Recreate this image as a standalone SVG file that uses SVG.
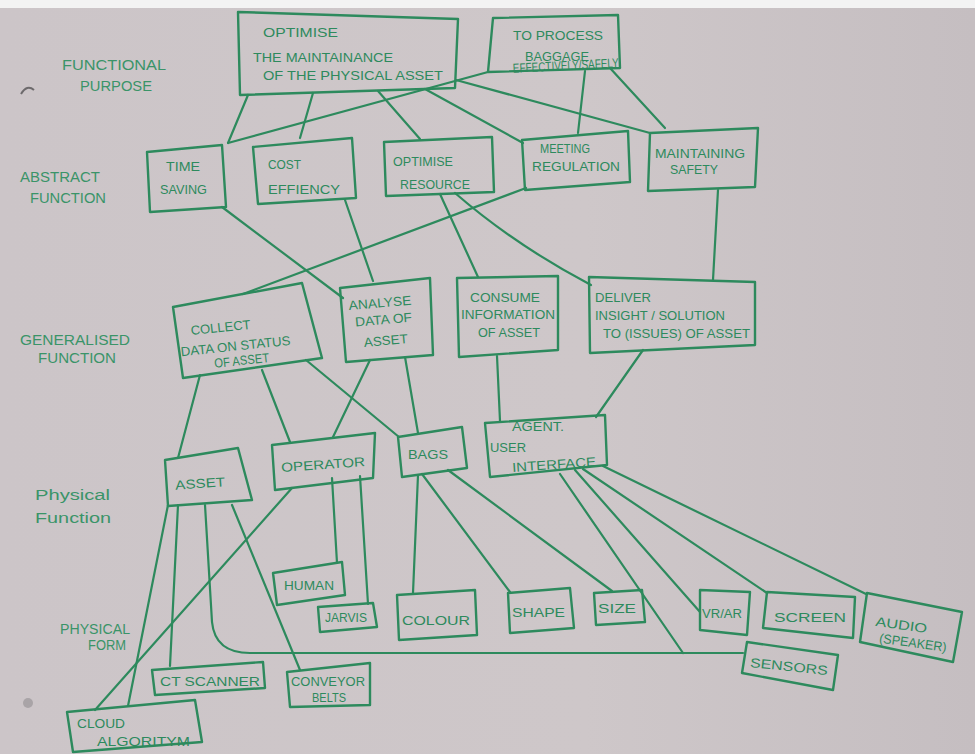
<svg xmlns="http://www.w3.org/2000/svg" width="975" height="754" viewBox="0 0 975 754">
<defs>
<linearGradient id="paper" x1="0" y1="0" x2="1" y2="0">
<stop offset="0" stop-color="#ccc5c8"/>
<stop offset="0.6" stop-color="#cec7c9"/>
<stop offset="1" stop-color="#c5bec1"/>
</linearGradient>
<style>
.box{fill:none;stroke:#2d8a5d;stroke-width:2.4;stroke-linejoin:round}
.ln{fill:none;stroke:#2d8a5d;stroke-width:2.2;stroke-linecap:round}
.t{font-family:"Liberation Sans",Arial,sans-serif;fill:#2d8a5d;font-size:13px}
.lay{font-family:"Liberation Sans",Arial,sans-serif;fill:#3a9468;font-size:14px}
</style>
</defs>
<rect x="0" y="0" width="975" height="754" fill="url(#paper)"/>
<rect x="0" y="0" width="975" height="8" fill="#f3f3f3"/>
<path d="M21,94 Q27,84 34,90" fill="none" stroke="#6d6a6c" stroke-width="2"/>
<circle cx="28" cy="703" r="5" fill="#a9a4a7"/>

<g id="layer-labels">
<text class="lay" x="62" y="70" textLength="104" lengthAdjust="spacingAndGlyphs">FUNCTIONAL</text>
<text class="lay" x="80" y="91" textLength="72" lengthAdjust="spacingAndGlyphs">PURPOSE</text>
<text class="lay" x="20" y="182" textLength="80" lengthAdjust="spacingAndGlyphs">ABSTRACT</text>
<text class="lay" x="30" y="203" textLength="76" lengthAdjust="spacingAndGlyphs">FUNCTION</text>
<text class="lay" x="20" y="345" textLength="110" lengthAdjust="spacingAndGlyphs">GENERALISED</text>
<text class="lay" x="38" y="363" textLength="78" lengthAdjust="spacingAndGlyphs">FUNCTION</text>
<text class="lay" x="35" y="500" font-size="17" textLength="75" lengthAdjust="spacingAndGlyphs">Physical</text>
<text class="lay" x="35" y="523" font-size="16" textLength="76" lengthAdjust="spacingAndGlyphs">Function</text>
<text class="lay" x="60" y="634" font-size="13" textLength="70" lengthAdjust="spacingAndGlyphs">PHYSICAL</text>
<text class="lay" x="88" y="650" font-size="13" textLength="38" lengthAdjust="spacingAndGlyphs">FORM</text>
</g>

<g id="connectors">
<path class="ln" d="M248,95 L228,143"/>
<path class="ln" d="M488,72 L228,143"/>
<path class="ln" d="M313,93 L300,138"/>
<path class="ln" d="M378,91 L420,139"/>
<path class="ln" d="M425,89 L523,143"/>
<path class="ln" d="M456,80 L650,133"/>
<path class="ln" d="M585,71 L578,133"/>
<path class="ln" d="M610,68 L665,128"/>
<path class="ln" d="M222,207 L343,298"/>
<path class="ln" d="M345,200 L373,281"/>
<path class="ln" d="M440,194 L478,277"/>
<path class="ln" d="M455,193 Q515,245 591,285"/>
<path class="ln" d="M526,188 L243,294"/>
<path class="ln" d="M718,190 L713,280"/>
<path class="ln" d="M200,375 L178,458"/>
<path class="ln" d="M262,370 L290,442"/>
<path class="ln" d="M306,360 L399,437"/>
<path class="ln" d="M370,360 L333,437"/>
<path class="ln" d="M405,357 L418,433"/>
<path class="ln" d="M497,356 L500,421"/>
<path class="ln" d="M643,350 L596,417"/>
<path class="ln" d="M168,505 L128,706"/>
<path class="ln" d="M178,505 L170,666"/>
<path class="ln" d="M205,505 L212,622 Q215,653 250,653 L743,653"/>
<path class="ln" d="M232,505 L300,670"/>
<path class="ln" d="M292,488 L95,710"/>
<path class="ln" d="M332,478 L337,563"/>
<path class="ln" d="M360,476 L368,604"/>
<path class="ln" d="M418,475 L413,593"/>
<path class="ln" d="M422,474 L510,592"/>
<path class="ln" d="M448,470 L612,591"/>
<path class="ln" d="M560,474 L683,653"/>
<path class="ln" d="M575,470 L700,612"/>
<path class="ln" d="M583,469 L767,593"/>
<path class="ln" d="M603,466 L866,594"/>
</g>

<g id="n-optimise-maintainance">
<polygon class="box" points="238,12 458,19 455,88 240,95"/>
<text class="t" x="263" y="37" font-size="16" textLength="75" lengthAdjust="spacingAndGlyphs">OPTIMISE</text>
<text class="t" x="253" y="62" textLength="140" lengthAdjust="spacingAndGlyphs">THE MAINTAINANCE</text>
<text class="t" x="263" y="80" textLength="180" lengthAdjust="spacingAndGlyphs">OF THE PHYSICAL ASSET</text>
</g>
<g id="n-process-baggage">
<polygon class="box" points="493,18 618,15 620,68 488,72"/>
<text class="t" x="513" y="40" font-size="12" textLength="90" lengthAdjust="spacingAndGlyphs">TO PROCESS</text>
<text class="t" x="525" y="61" font-size="12" textLength="64" lengthAdjust="spacingAndGlyphs">BAGGAGE</text>
<text class="t" x="513" y="70" font-size="7" textLength="106" lengthAdjust="spacingAndGlyphs" transform="rotate(-3 566 69)">EFFECTIVELY/SAFELY</text>
</g>
<g id="n-time-saving">
<polygon class="box" points="147,152 222,145 226,207 150,212"/>
<text class="t" x="166" y="171" textLength="34" lengthAdjust="spacingAndGlyphs">TIME</text>
<text class="t" x="160" y="194" textLength="47" lengthAdjust="spacingAndGlyphs">SAVING</text>
</g>
<g id="n-cost-efficiency">
<polygon class="box" points="253,147 352,138 356,198 258,204"/>
<text class="t" x="268" y="169" textLength="33" lengthAdjust="spacingAndGlyphs">COST</text>
<text class="t" x="268" y="194" font-size="12" textLength="72" lengthAdjust="spacingAndGlyphs">EFFIENCY</text>
</g>
<g id="n-optimise-resource">
<polygon class="box" points="384,142 492,137 494,192 386,196"/>
<text class="t" x="393" y="166" font-size="12" textLength="60" lengthAdjust="spacingAndGlyphs">OPTIMISE</text>
<text class="t" x="400" y="189" textLength="70" lengthAdjust="spacingAndGlyphs">RESOURCE</text>
</g>
<g id="n-meeting-regulation">
<polygon class="box" points="522,140 628,131 630,182 525,190"/>
<text class="t" x="540" y="153" font-size="11" textLength="50" lengthAdjust="spacingAndGlyphs">MEETING</text>
<text class="t" x="532" y="171" font-size="12" textLength="88" lengthAdjust="spacingAndGlyphs">REGULATION</text>
</g>
<g id="n-maintaining-safety">
<polygon class="box" points="650,133 758,128 755,187 648,191"/>
<text class="t" x="655" y="158" font-size="11" textLength="90" lengthAdjust="spacingAndGlyphs">MAINTAINING</text>
<text class="t" x="670" y="174" font-size="12" textLength="48" lengthAdjust="spacingAndGlyphs">SAFETY</text>
</g>
<g id="n-collect-data">
<polygon class="box" points="173,307 302,283 322,358 183,378"/>
<g transform="rotate(-6 240 340)">
<text class="t" x="192" y="330" textLength="60" lengthAdjust="spacingAndGlyphs">COLLECT</text>
<text class="t" x="180" y="350" font-size="12" textLength="110" lengthAdjust="spacingAndGlyphs">DATA ON STATUS</text>
<text class="t" x="212" y="365" font-size="11" textLength="55" lengthAdjust="spacingAndGlyphs">OF ASSET</text>
</g>
</g>
<g id="n-analyse-data">
<polygon class="box" points="340,288 430,278 433,355 346,362"/>
<g transform="rotate(-5 385 320)">
<text class="t" x="350" y="307" font-size="12" textLength="63" lengthAdjust="spacingAndGlyphs">ANALYSE</text>
<text class="t" x="355" y="324" font-size="12" textLength="57" lengthAdjust="spacingAndGlyphs">DATA OF</text>
<text class="t" x="362" y="345" textLength="44" lengthAdjust="spacingAndGlyphs">ASSET</text>
</g>
</g>
<g id="n-consume-information">
<polygon class="box" points="457,278 558,276 558,350 459,357"/>
<text class="t" x="470" y="302" font-size="12" textLength="70" lengthAdjust="spacingAndGlyphs">CONSUME</text>
<text class="t" x="461" y="319" font-size="11" textLength="94" lengthAdjust="spacingAndGlyphs">INFORMATION</text>
<text class="t" x="478" y="337" font-size="11" textLength="62" lengthAdjust="spacingAndGlyphs">OF ASSET</text>
</g>
<g id="n-deliver-insight">
<polygon class="box" points="589,277 755,282 755,345 590,353"/>
<text class="t" x="595" y="302" font-size="12" textLength="56" lengthAdjust="spacingAndGlyphs">DELIVER</text>
<text class="t" x="595" y="320" font-size="11" textLength="130" lengthAdjust="spacingAndGlyphs">INSIGHT / SOLUTION</text>
<text class="t" x="603" y="338" font-size="11" textLength="147" lengthAdjust="spacingAndGlyphs">TO (ISSUES) OF ASSET</text>
</g>
<g id="n-asset">
<polygon class="box" points="165,460 238,448 252,500 168,506"/>
<text class="t" x="175" y="488" textLength="50" lengthAdjust="spacingAndGlyphs" transform="rotate(-4 200 482)">ASSET</text>
</g>
<g id="n-operator">
<polygon class="box" points="272,445 375,433 373,478 275,490"/>
<text class="t" x="281" y="469" font-size="12" textLength="84" lengthAdjust="spacingAndGlyphs" transform="rotate(-4 323 464)">OPERATOR</text>
</g>
<g id="n-bags">
<polygon class="box" points="398,437 462,427 467,468 402,477"/>
<text class="t" x="408" y="459" textLength="40" lengthAdjust="spacingAndGlyphs">BAGS</text>
</g>
<g id="n-user-interface">
<polygon class="box" points="485,423 605,415 607,465 490,477"/>
<text class="t" x="512" y="431" font-size="12" textLength="52" lengthAdjust="spacingAndGlyphs">AGENT.</text>
<text class="t" x="490" y="452" textLength="36" lengthAdjust="spacingAndGlyphs">USER</text>
<text class="t" x="512" y="469" font-size="12" textLength="84" lengthAdjust="spacingAndGlyphs" transform="rotate(-4 554 464)">INTERFACE</text>
</g>
<g id="n-human">
<polygon class="box" points="273,573 342,562 345,595 277,605"/>
<text class="t" x="284" y="590" font-size="11" textLength="50" lengthAdjust="spacingAndGlyphs">HUMAN</text>
</g>
<g id="n-jarvis">
<polygon class="box" points="318,607 373,603 377,627 320,632"/>
<text class="t" x="325" y="622" font-size="10" textLength="42" lengthAdjust="spacingAndGlyphs">JARVIS</text>
</g>
<g id="n-colour">
<polygon class="box" points="397,595 475,590 477,635 399,640"/>
<text class="t" x="402" y="625" font-size="14" textLength="68" lengthAdjust="spacingAndGlyphs">COLOUR</text>
</g>
<g id="n-shape">
<polygon class="box" points="508,593 570,588 574,628 510,633"/>
<text class="t" x="512" y="617" font-size="12" textLength="53" lengthAdjust="spacingAndGlyphs">SHAPE</text>
</g>
<g id="n-size">
<polygon class="box" points="594,593 642,590 645,622 596,625"/>
<text class="t" x="598" y="613" font-size="13" textLength="38" lengthAdjust="spacingAndGlyphs">SIZE</text>
</g>
<g id="n-vr-ar">
<polygon class="box" points="700,590 750,592 747,635 700,630"/>
<text class="t" x="702" y="618" font-size="12" textLength="40" lengthAdjust="spacingAndGlyphs">VR/AR</text>
</g>
<g id="n-screen">
<polygon class="box" points="767,592 855,597 853,638 763,628"/>
<text class="t" x="774" y="622" font-size="14" textLength="72" lengthAdjust="spacingAndGlyphs">SCREEN</text>
</g>
<g id="n-audio">
<polygon class="box" points="867,593 962,612 953,662 860,642"/>
<g transform="rotate(8 912 635)">
<text class="t" x="874" y="631" textLength="52" lengthAdjust="spacingAndGlyphs">AUDIO</text>
<text class="t" x="880" y="647" font-size="10" textLength="68" lengthAdjust="spacingAndGlyphs">(SPEAKER)</text>
</g>
</g>
<g id="n-sensors">
<polygon class="box" points="747,642 838,655 833,690 742,673"/>
<text class="t" x="750" y="671" font-size="13" textLength="78" lengthAdjust="spacingAndGlyphs" transform="rotate(6 789 666)">SENSORS</text>
</g>
<g id="n-ct-scanner">
<polygon class="box" points="152,670 263,662 265,688 155,695"/>
<text class="t" x="160" y="686" font-size="12" textLength="100" lengthAdjust="spacingAndGlyphs">CT SCANNER</text>
</g>
<g id="n-conveyor-belts">
<polygon class="box" points="287,672 370,663 370,705 290,707"/>
<text class="t" x="291" y="686" font-size="11" textLength="74" lengthAdjust="spacingAndGlyphs">CONVEYOR</text>
<text class="t" x="312" y="702" font-size="11" textLength="34" lengthAdjust="spacingAndGlyphs">BELTS</text>
</g>
<g id="n-cloud-algorithm">
<polygon class="box" points="67,712 195,700 202,742 73,752"/>
<text class="t" x="77" y="728" font-size="12" textLength="48" lengthAdjust="spacingAndGlyphs">CLOUD</text>
<text class="t" x="97" y="746" font-size="12" textLength="93" lengthAdjust="spacingAndGlyphs">ALGORITYM</text>
</g>
</svg>
